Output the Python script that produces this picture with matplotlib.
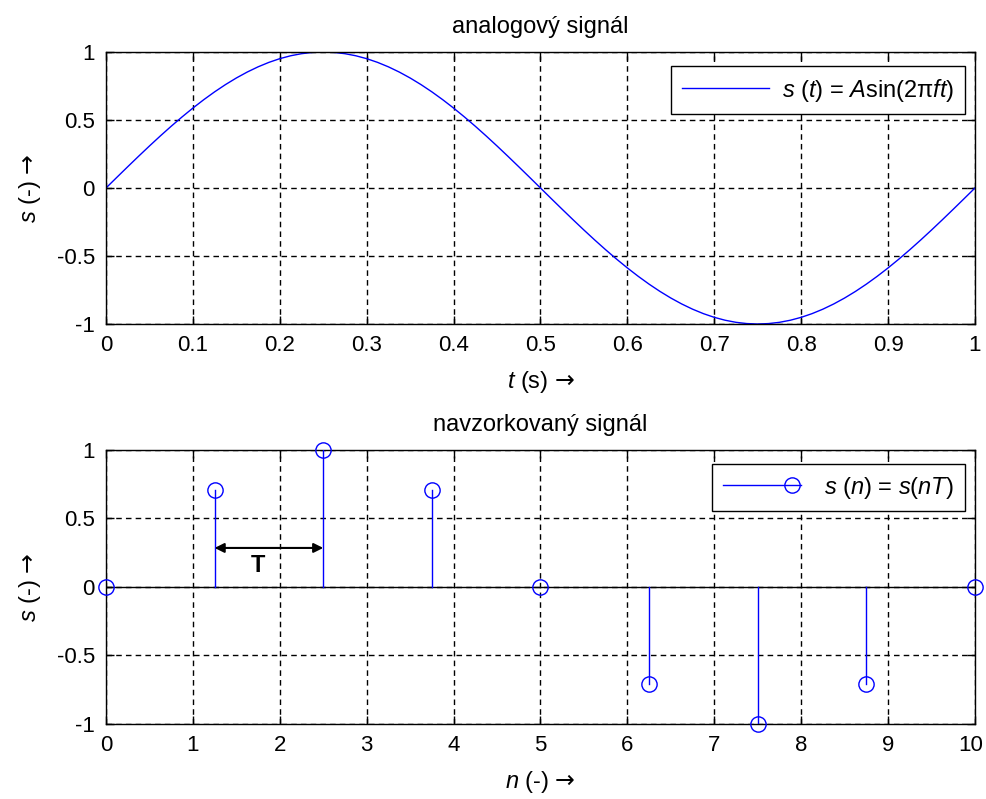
import numpy as np
import matplotlib
matplotlib.use("Agg")
import matplotlib.pyplot as plt
import matplotlib.transforms as mtrans
from matplotlib.lines import Line2D
from matplotlib.legend_handler import HandlerBase

plt.rcParams['font.family'] = ['Liberation Sans', 'DejaVu Sans']
plt.rcParams['mathtext.fontset'] = 'custom'
plt.rcParams['mathtext.rm'] = 'Liberation Sans'
plt.rcParams['mathtext.it'] = 'Liberation Sans:italic'
plt.rcParams['mathtext.bf'] = 'Liberation Sans:bold'
plt.rcParams['mathtext.sf'] = 'DejaVu Sans'
FS = 17
TS = 16

# analogovy signal, cteno z grafu po 0.0125 s
t = [0.0, 0.0125, 0.025, 0.0375, 0.05, 0.0625, 0.075, 0.0875, 0.1, 0.1125,
     0.125, 0.1375, 0.15, 0.1625, 0.175, 0.1875, 0.2, 0.2125, 0.225, 0.2375,
     0.25, 0.2625, 0.275, 0.2875, 0.3, 0.3125, 0.325, 0.3375, 0.35, 0.3625,
     0.375, 0.3875, 0.4, 0.4125, 0.425, 0.4375, 0.45, 0.4625, 0.475, 0.4875,
     0.5, 0.5125, 0.525, 0.5375, 0.55, 0.5625, 0.575, 0.5875, 0.6, 0.6125,
     0.625, 0.6375, 0.65, 0.6625, 0.675, 0.6875, 0.7, 0.7125, 0.725, 0.7375,
     0.75, 0.7625, 0.775, 0.7875, 0.8, 0.8125, 0.825, 0.8375, 0.85, 0.8625,
     0.875, 0.8875, 0.9, 0.9125, 0.925, 0.9375, 0.95, 0.9625, 0.975, 0.9875, 1.0]
s_t = [0.0, 0.0785, 0.1564, 0.2334, 0.309, 0.3827, 0.454, 0.5225, 0.5878, 0.6494,
       0.7071, 0.7604, 0.809, 0.8526, 0.891, 0.9239, 0.9511, 0.9724, 0.9877, 0.9969,
       1.0, 0.9969, 0.9877, 0.9724, 0.9511, 0.9239, 0.891, 0.8526, 0.809, 0.7604,
       0.7071, 0.6494, 0.5878, 0.5225, 0.454, 0.3827, 0.309, 0.2334, 0.1564, 0.0785,
       0.0, -0.0785, -0.1564, -0.2334, -0.309, -0.3827, -0.454, -0.5225, -0.5878, -0.6494,
       -0.7071, -0.7604, -0.809, -0.8526, -0.891, -0.9239, -0.9511, -0.9724, -0.9877, -0.9969,
       -1.0, -0.9969, -0.9877, -0.9724, -0.9511, -0.9239, -0.891, -0.8526, -0.809, -0.7604,
       -0.7071, -0.6494, -0.5878, -0.5225, -0.454, -0.3827, -0.309, -0.2334, -0.1564, -0.0785, 0.0]

# navzorkovany signal
n = [0, 1.25, 2.5, 3.75, 5, 6.25, 7.5, 8.75, 10]
s_n = [0, 0.707, 1.0, 0.707, 0, -0.707, -1.0, -0.707, 0]

fig = plt.figure(figsize=(9.86, 7.99), dpi=100)
ax1 = fig.add_axes([0.1075, 0.5945, 0.8813, 0.3404])
ax2 = fig.add_axes([0.1075, 0.0939, 0.8813, 0.3429])


def matlab_style(ax):
    ax.grid(True, color='black', linestyle=(0, (4, 3)), linewidth=1)
    ax.tick_params(direction='in', length=6, top=True, right=True, pad=8,
                   labelsize=TS, width=1)
    for sp in ax.spines.values():
        sp.set_linewidth(1)
        sp.set_color('black')
    ax.set_axisbelow(True)


class StemHandler(HandlerBase):
    # cara s koleckem jen na pravem konci, jako u matlabu
    def create_artists(self, legend, orig_handle, xdescent, ydescent,
                       width, height, fontsize, trans):
        y = height / 2 - ydescent
        x0 = -xdescent
        x1 = width - xdescent
        line = Line2D([x0, x1], [y, y], color='blue', linewidth=1)
        mark = Line2D([x1 - 6], [y], linestyle='None', marker='o', markersize=11,
                      markerfacecolor='none', markeredgecolor='blue')
        line.set_transform(trans)
        mark.set_transform(trans)
        return [line, mark]


arrow_lbl = r' $\mathsf{→}$'

ax1.plot(t, s_t, color='blue', linewidth=1, label=r'$s$ ($t$) = $A$sin(2π$ft$)')
ax1.set_xlim(0, 1)
ax1.set_ylim(-1, 1)
ax1.set_xticks(np.arange(0, 1.01, 0.1))
ax1.set_xticklabels(['0', '0.1', '0.2', '0.3', '0.4', '0.5', '0.6', '0.7', '0.8', '0.9', '1'])
ax1.set_yticks([-1, -0.5, 0, 0.5, 1])
ax1.set_yticklabels(['-1', '-0.5', '0', '0.5', '1'])
matlab_style(ax1)
ax1.set_title('analogový signál', fontsize=FS, pad=14)
ax1.set_xlabel(r'$t$ (s)' + arrow_lbl, fontsize=FS, labelpad=9)
ax1.set_ylabel(r'$s$ (-)' + arrow_lbl, fontsize=FS, labelpad=10)
leg1 = ax1.legend(loc='upper right', fancybox=False, edgecolor='black',
                  framealpha=1, handlelength=3.7, handletextpad=0.55,
                  borderpad=0.45, borderaxespad=0,
                  bbox_to_anchor=(0.9885, 0.9485), fontsize=FS)
leg1.get_frame().set_linewidth(1)

# stem
ax2.axhline(0, color='black', linewidth=1, zorder=2)
for xi, yi in zip(n, s_n):
    ax2.plot([xi, xi], [0, yi], color='blue', linewidth=1, zorder=3)
ax2.plot(n, s_n, linestyle='None', marker='o', markersize=11,
         markerfacecolor='none', markeredgecolor='blue',
         markeredgewidth=1, clip_on=False, zorder=4)
ax2.set_xlim(0, 10)
ax2.set_ylim(-1, 1)
ax2.set_xticks(range(11))
ax2.set_yticks([-1, -0.5, 0, 0.5, 1])
ax2.set_yticklabels(['-1', '-0.5', '0', '0.5', '1'])
matlab_style(ax2)
ax2.set_title('navzorkovaný signál', fontsize=FS, pad=14)
ax2.set_xlabel(r'$n$ (-)' + arrow_lbl, fontsize=FS, labelpad=9)
ax2.set_ylabel(r'$s$ (-)' + arrow_lbl, fontsize=FS, labelpad=10)

# posun popisku "10" trochu doleva, at se vejde do obrazku
lbl10 = ax2.get_xticklabels()[-1]
lbl10.set_transform(lbl10.get_transform() +
                    mtrans.ScaledTranslation(-3 / 72, 0, fig.dpi_scale_trans))

ax2.annotate('', xy=(1.25, 0.285), xytext=(2.5, 0.285),
             arrowprops=dict(arrowstyle='<|-|>', color='black', lw=1.5,
                             mutation_scale=14, shrinkA=0, shrinkB=0))
ax2.text(1.75, 0.16, 'T', fontsize=FS, fontweight='bold', ha='center', va='center')

h2 = Line2D([], [], color='blue')
leg2 = ax2.legend([h2], [r'$s$ ($n$) = $s$($nT$)'], loc='upper right',
                  fancybox=False, edgecolor='black', framealpha=1,
                  handlelength=3.3, handletextpad=1.0, borderpad=0.45,
                  borderaxespad=0, handler_map={h2: StemHandler()},
                  bbox_to_anchor=(0.9885, 0.9485), fontsize=FS)
leg2.get_frame().set_linewidth(1)

fig.savefig('out.png', dpi=100)
